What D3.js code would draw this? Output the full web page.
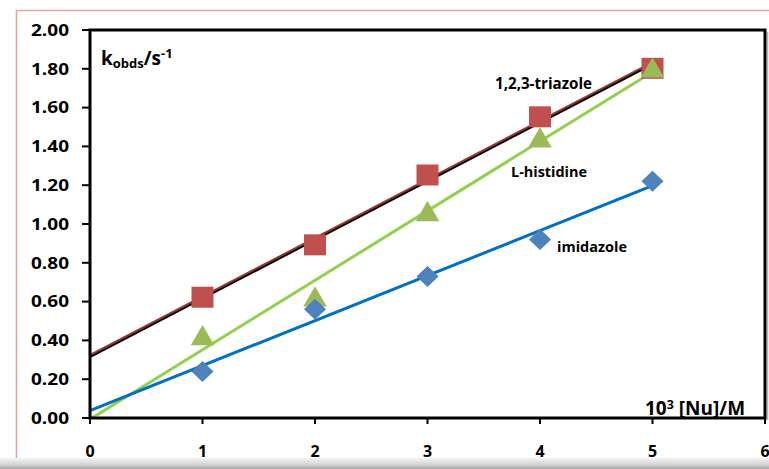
<!DOCTYPE html>
<html>
<head>
<meta charset="utf-8">
<script src="https://cdn.jsdelivr.net/npm/d3@7"></script>
<style>
  html, body { margin: 0; padding: 0; background: #ffffff; }
  svg { display: block; }
  text { font-family: "Open Sans", "Lato", sans-serif; font-weight: bold; fill: #000; }
</style>
</head>
<body>
<svg id="chart" width="769" height="469"></svg>
<script>
// Nucleophile concentration, 10^3 [Nu] / M
const concentrations = [1, 2, 3, 4, 5];

// Observed rate constants k_obs / s^-1
const triazole  = [0.62, 0.89, 1.25, 1.55, 1.80];
const histidine = [0.42, 0.62, 1.06, 1.44, 1.80];
const imidazole = [0.24, 0.56, 0.73, 0.92, 1.22];

const seriesNames = ["1,2,3-triazole", "L-histidine", "imidazole"];

// Axis ticks
const xTicks = [0, 1, 2, 3, 4, 5, 6];
const yTicks = [0, 0.2, 0.4, 0.6, 0.8, 1.0, 1.2, 1.4, 1.6, 1.8, 2.0];

const svg = d3.select("#chart");
const W = 769, H = 469;
const plot = { left: 90, right: 765, top: 30, bottom: 418 };

const x = d3.scaleLinear().domain([0, 6]).range([plot.left, plot.right]);
const y = d3.scaleLinear().domain([0, 2]).range([plot.bottom, plot.top]);

// Least-squares trendline, drawn from x = 0 to the last point
function fit(xs, ys) {
  const mx = d3.mean(xs), my = d3.mean(ys);
  let sxy = 0, sxx = 0;
  xs.forEach((v, i) => { sxy += (v - mx) * (ys[i] - my); sxx += (v - mx) * (v - mx); });
  const slope = sxy / sxx;
  return { slope, intercept: my - slope * mx };
}
function trend(ys) {
  const f = fit(concentrations, ys);
  const x1 = d3.max(concentrations);
  return [[0, f.intercept], [x1, f.intercept + f.slope * x1]];
}
const line = d3.line().x(d => x(d[0])).y(d => y(d[1]));

// Outer chart-area border and bottom shading
const defs = svg.append("defs");
const grad = defs.append("linearGradient").attr("id", "band").attr("x1", 0).attr("y1", 0).attr("x2", 0).attr("y2", 1);
grad.append("stop").attr("offset", "0%").attr("stop-color", "#f4f4f4");
grad.append("stop").attr("offset", "60%").attr("stop-color", "#d4d4d4");
grad.append("stop").attr("offset", "100%").attr("stop-color", "#a8a8a8");

svg.append("path")
  .attr("d", `M${W + 2},10.5 H16.5 V${H}`)
  .attr("fill", "none").attr("stroke", "#e6a3a3").attr("stroke-width", 1.6);

svg.append("rect").attr("x", 0).attr("y", 458).attr("width", W).attr("height", H - 458)
  .attr("fill", "url(#band)");

// Frame shadow on the right side
svg.append("line").attr("x1", 767.5).attr("x2", 767.5).attr("y1", 32).attr("y2", 420)
  .attr("stroke", "#b8b8b8").attr("stroke-width", 1.5);

// Y axis ticks and labels
const yAxis = svg.append("g");
yTicks.forEach(t => {
  yAxis.append("line").attr("x1", 82).attr("x2", plot.left).attr("y1", y(t)).attr("y2", y(t))
    .attr("stroke", "#000").attr("stroke-width", 2);
  yAxis.append("text").attr("x", 69).attr("y", y(t)).attr("dy", "0.36em")
    .attr("text-anchor", "end").attr("font-size", 16)
    .attr("textLength", 38).attr("lengthAdjust", "spacingAndGlyphs")
    .text(d3.format(".2f")(t));
});

// X axis ticks and labels
const xAxis = svg.append("g");
xTicks.forEach(t => {
  xAxis.append("line").attr("x1", x(t)).attr("x2", x(t)).attr("y1", plot.bottom).attr("y2", 424)
    .attr("stroke", "#000").attr("stroke-width", 2);
  xAxis.append("text").attr("x", x(t)).attr("y", 457)
    .attr("text-anchor", "middle").attr("font-size", 16)
    .text(t);
});

// Trendlines
const tTri = trend(triazole);
svg.append("path").attr("d", line(tTri)).attr("transform", "translate(0,-1)")
  .attr("fill", "none").attr("stroke", "#943634").attr("stroke-width", 3);
svg.append("path").attr("d", line(tTri)).attr("transform", "translate(0,0.6)")
  .attr("fill", "none").attr("stroke", "#000").attr("stroke-width", 1.8);
svg.append("path").attr("d", line(trend(histidine)))
  .attr("fill", "none").attr("stroke", "#92d050").attr("stroke-width", 3);
svg.append("path").attr("d", line(trend(imidazole)))
  .attr("fill", "none").attr("stroke", "#0070c0").attr("stroke-width", 3);

// Markers
const sq = 22;
svg.append("g").selectAll("rect").data(triazole).join("rect")
  .attr("x", (d, i) => x(concentrations[i]) - sq / 2)
  .attr("y", d => y(d) - sq / 2)
  .attr("width", sq).attr("height", sq - 1)
  .attr("fill", "#c0504d");

const tri = d3.symbol().type(d3.symbolTriangle).size(240);
svg.append("g").selectAll("path").data(histidine).join("path")
  .attr("d", tri)
  .attr("transform", (d, i) => `translate(${x(concentrations[i])},${y(d) + 2})`)
  .attr("fill", "#9bbb59");

svg.append("g").selectAll("path").data(imidazole).join("path")
  .attr("d", "M0,-10.5 L11,0 L0,10.5 L-11,0 Z")
  .attr("transform", (d, i) => `translate(${x(concentrations[i])},${y(d)})`)
  .attr("fill", "#4f81bd");

// Plot frame
svg.append("rect")
  .attr("x", plot.left).attr("y", plot.top)
  .attr("width", plot.right - plot.left).attr("height", plot.bottom - plot.top)
  .attr("fill", "none").attr("stroke", "#000").attr("stroke-width", 3);

// Series labels
svg.append("text").attr("x", 495).attr("y", 89).attr("font-size", 15.5)
  .attr("textLength", 97).attr("lengthAdjust", "spacingAndGlyphs").text(seriesNames[0]);
svg.append("text").attr("x", 511).attr("y", 177).attr("font-size", 15)
  .attr("textLength", 76).attr("lengthAdjust", "spacingAndGlyphs").text(seriesNames[1]);
svg.append("text").attr("x", 557).attr("y", 252).attr("font-size", 15)
  .attr("textLength", 70).attr("lengthAdjust", "spacingAndGlyphs").text(seriesNames[2]);

// Axis titles
const yt = svg.append("text").attr("x", 101).attr("y", 65).attr("font-size", 19);
yt.append("tspan").text("k");
yt.append("tspan").attr("font-size", 13).attr("dy", 3).text("obds");
yt.append("tspan").attr("dy", -3).text("/s");
yt.append("tspan").attr("font-size", 13).attr("dy", -7).text("-1");

const xt = svg.append("text").attr("x", 645).attr("y", 415).attr("font-size", 19);
xt.append("tspan").text("10");
xt.append("tspan").attr("font-size", 12.5).attr("dy", -6).text("3");
xt.append("tspan").attr("dy", 6).text(" [Nu]/M");
</script>
</body>
</html>
